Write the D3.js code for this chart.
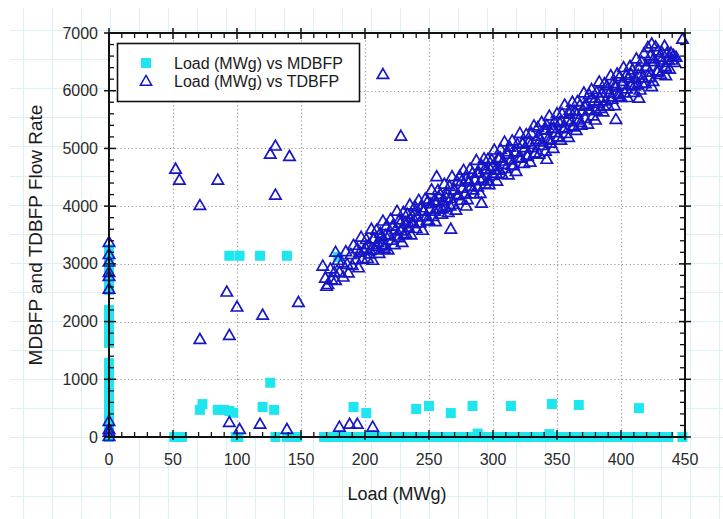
<!DOCTYPE html>
<html>
<head>
<meta charset="utf-8">
<script src="https://cdn.jsdelivr.net/npm/d3@7"></script>
<style>
  body { margin: 0; background: #fff; }
  svg { display: block; font-family: "Liberation Sans", Arial, sans-serif; }
</style>
</head>
<body>
<div id="chart"></div>
<script>
const width = 723;
const height = 519;

// axis ranges and ticks
const xTicks = [0, 50, 100, 150, 200, 250, 300, 350, 400, 450];
const yTicks = [0, 1000, 2000, 3000, 4000, 5000, 6000, 7000];
const xTitle = "Load (MWg)";
const yTitle = "MDBFP and TDBFP Flow Rate";
const legendLabels = ["Load (MWg) vs MDBFP", "Load (MWg) vs TDBFP"];

// MDBFP: column at load 0
const mdbfpZeroLoadFlow = [0, 80, 160, 240, 320, 400, 480, 560, 640, 720, 800, 880, 960, 1040, 1120, 1200, 1280,
  1630, 1710, 1790, 1870, 1950, 2030, 2110, 2200,
  2550, 2650, 2750, 2850, 2950, 3050, 3150, 3250];
// MDBFP: loads with flow 0
const mdbfpZeroFlowLoad = [51, 54, 57, 99, 101, 130, 139, 143, 147,
  168, 174, 180, 186, 192, 198, 204, 210, 216, 222, 228, 234, 240, 246, 252, 258, 264, 270, 276, 282,
  288, 294, 300, 306, 312, 318, 324, 330, 336, 342, 348, 354, 360, 366, 372, 378, 384, 390, 396, 402,
  408, 414, 420, 426, 432, 437, 448];
// MDBFP: remaining points [load, flow]
const mdbfpOther = [
  [71, 470], [73, 570], [85, 470], [90, 470], [94, 450], [97, 420], [120, 520], [126, 940], [129, 470],
  [94, 3140], [102, 3140], [118, 3140], [139, 3140], [179, 3120],
  [191, 520], [201, 415], [240, 485], [250, 537], [267, 415], [284, 537], [314, 537], [346, 572],
  [367, 555], [414, 500], [288, 60], [344, 50]
];

// TDBFP [load, flow]
const tdbfpOutliers = [
  [0, 3360], [0, 3150], [0, 3020], [0, 2840], [0, 2770], [0, 2550], [0, 260], [0, 120], [0, 70], [0, 0],
  [52, 4630], [55, 4440], [71, 4000], [85, 4440], [126, 4890], [130, 5030], [141, 4850], [130, 4180],
  [92, 2500], [71, 1680], [94, 1750], [100, 2240], [120, 2100], [148, 2320],
  [94, 240], [102, 120], [118, 210], [139, 120], [180, 160], [188, 210], [194, 210], [206, 160],
  [167, 2950], [170, 2600], [177, 3190],
  [214, 6270], [228, 5200], [256, 4500], [267, 3590], [279, 3990], [291, 4040], [342, 4800],
  [396, 5490], [414, 5860], [424, 6060], [435, 6250], [448, 6880]
];
const tdbfpBand = [
  [169, 2740], [171, 2630], [173, 2900], [174, 2710], [176, 2840], [177, 2700], [179, 3050], [180, 2840],
  [182, 3010], [183, 2760], [185, 3200], [186, 2980], [187, 2830], [189, 3150], [190, 2960], [191, 3310],
  [193, 3060], [194, 3250], [195, 2920], [196, 3190], [197, 3450], [198, 3070], [199, 3220],
  [201, 3410], [202, 3080], [203, 3320], [204, 3220], [205, 3590], [206, 3050], [207, 3420], [208, 3230],
  [209, 3570], [210, 3360], [211, 3170], [212, 3520], [213, 3320], [214, 3730], [215, 3260], [216, 3480],
  [217, 3650], [218, 3230], [219, 3490], [220, 3760], [221, 3400], [222, 3640], [223, 3320], [224, 3580],
  [225, 3900], [226, 3440], [227, 3750], [228, 3560], [229, 3360], [230, 3880], [231, 3690], [232, 3510],
  [233, 3850], [234, 3620], [235, 4010], [236, 3490], [237, 3810], [238, 3690], [239, 3980], [240, 3600],
  [241, 3800], [242, 4090], [243, 3700], [244, 3960], [245, 3570], [246, 3900], [247, 4110], [248, 3810],
  [249, 4070], [250, 3730],
  [251, 3940], [252, 4270], [253, 3810], [254, 4080], [255, 3720], [256, 4050], [257, 4260], [258, 3940],
  [259, 4190], [260, 3850], [261, 4080], [262, 4370], [263, 3970], [264, 4210], [265, 3880], [266, 4330],
  [267, 4120], [268, 4500], [269, 4020], [270, 4270], [271, 3920], [272, 4410], [273, 4170], [274, 4510],
  [275, 4090], [276, 4300], [277, 4610], [278, 4200], [279, 4460], [280, 4100], [281, 4410], [282, 4630],
  [283, 4330], [284, 4560], [285, 4200], [286, 4440], [287, 4780], [288, 4320], [289, 4570], [290, 4210],
  [291, 4690], [292, 4470], [293, 4810], [294, 4370], [295, 4620], [296, 4800], [297, 4360], [298, 4620],
  [299, 4790], [300, 4520],
  [301, 4960], [302, 4620], [303, 4420], [304, 4820], [305, 4610], [306, 4970], [307, 4540], [308, 4770],
  [309, 5100], [310, 4640], [311, 4890], [312, 4530], [313, 5010], [314, 4790], [315, 5120], [316, 4690],
  [317, 4930], [318, 4590], [319, 5060], [320, 4830], [321, 5250], [322, 4820], [323, 5070], [324, 4730],
  [325, 5000], [326, 5230], [327, 4850], [328, 5100], [329, 4750], [330, 5250], [331, 5000], [332, 5380],
  [333, 4900], [334, 5140], [335, 5350], [336, 4890], [337, 5140], [338, 5440], [339, 5040], [340, 5310],
  [341, 4940], [342, 5390], [343, 5150], [344, 5550], [345, 5080], [346, 5330], [347, 4990], [348, 5450],
  [349, 5260], [350, 5590],
  [351, 5190], [352, 5430], [353, 5130], [354, 5590], [355, 5330], [356, 5740], [357, 5250], [358, 5480],
  [359, 5180], [360, 5650], [361, 5450], [362, 5790], [363, 5360], [364, 5630], [365, 5300], [366, 5800],
  [367, 5480], [368, 5740], [369, 5390], [370, 5640], [371, 5950], [372, 5510], [373, 5740], [374, 5410],
  [375, 5920], [376, 5650], [377, 6010], [378, 5550], [379, 5810], [380, 5480], [381, 5960], [382, 5770],
  [383, 6140], [384, 5680], [385, 5950], [386, 5620], [387, 6110], [388, 5810], [389, 6070], [390, 5720],
  [391, 5950], [392, 6250], [393, 5840], [394, 6110], [395, 5730], [396, 6050], [397, 6280], [398, 5930],
  [399, 6230], [400, 5870],
  [401, 6100], [402, 6390], [403, 5950], [404, 6250], [405, 5870], [406, 6210], [407, 6410], [408, 6080],
  [409, 6350], [410, 5960], [411, 6200], [412, 6540], [413, 6090], [414, 6370], [415, 6000], [416, 6490],
  [417, 6210], [418, 6630], [419, 6110], [420, 6400], [421, 6740], [422, 6220], [423, 6590], [424, 6800],
  [425, 6150], [426, 6490], [427, 6750], [428, 6330], [429, 6680], [430, 6570], [431, 6270], [432, 6650],
  [433, 6480], [434, 6760], [435, 6380], [436, 6640], [437, 6520], [438, 6360], [439, 6640], [440, 6520],
  [441, 6600], [442, 6480], [443, 6570]
];
// TDBFP: denser core of the band
const tdbfpCore = [
  [200.5, 3260], [203.5, 3160], [206.5, 3420], [209.5, 3290], [212.5, 3460], [215.5, 3300], [218.5, 3480],
  [221.5, 3640], [224.5, 3470], [227.5, 3690], [230.5, 3500], [233.5, 3720], [236.5, 3690], [239.5, 3900],
  [242.5, 3700], [245.5, 3910], [248.5, 3740], [251.5, 4030], [254.5, 3900], [257.5, 4150], [260.5, 3940],
  [263.5, 4130], [266.5, 3990], [269.5, 4270], [272.5, 4190], [275.5, 4420], [278.5, 4210], [281.5, 4410],
  [284.5, 4270], [287.5, 4560], [290.5, 4430], [293.5, 4630], [296.5, 4430], [299.5, 4670], [302.5, 4560],
  [305.5, 4830], [308.5, 4710], [311.5, 4930], [314.5, 4700], [317.5, 4920], [320.5, 4830], [323.5, 5080],
  [326.5, 4870], [329.5, 5060], [332.5, 4910], [335.5, 5200], [338.5, 5100], [341.5, 5310], [344.5, 5130],
  [347.5, 5340], [350.5, 5180], [353.5, 5460], [356.5, 5350], [359.5, 5580], [362.5, 5380], [365.5, 5580],
  [368.5, 5440], [371.5, 5720], [374.5, 5640], [377.5, 5860], [380.5, 5650], [383.5, 5860], [386.5, 5720],
  [389.5, 6010], [392.5, 5880], [395.5, 6080], [398.5, 5890], [401.5, 6150], [404.5, 6020], [407.5, 6280],
  [410.5, 6070], [413.5, 6260], [416.5, 6120], [419.5, 6410], [422.5, 6310], [425.5, 6540], [428.5, 6310],
  [431.5, 6520], [434.5, 6410], [437.5, 6570]
];

const squareColor = "#1ee6ee";
const triColor = "#1616c6";
const paperColor = "#dcf1f6";

const margin = { left: 109, right: 723 - 685, top: 33, bottom: 519 - 437 };
const plotW = width - margin.left - margin.right;
const plotH = height - margin.top - margin.bottom;

const svg = d3.select("#chart").append("svg")
    .attr("width", width)
    .attr("height", height);

// graph-paper background
const paper = svg.append("g").attr("stroke", paperColor).attr("stroke-width", 1);
paper.selectAll("line.v")
    .data(d3.range(23, width, 29))
    .enter().append("line")
    .attr("x1", d => d + 0.5).attr("x2", d => d + 0.5)
    .attr("y1", 8).attr("y2", height);
paper.selectAll("line.h")
    .data(d3.range(30, height, 29.1))
    .enter().append("line")
    .attr("x1", 10).attr("x2", width)
    .attr("y1", d => Math.round(d) + 0.5).attr("y2", d => Math.round(d) + 0.5);

const x = d3.scaleLinear().domain([0, 450]).range([margin.left, margin.left + plotW]);
const y = d3.scaleLinear().domain([0, 7000]).range([margin.top + plotH, margin.top]);

// plot area
svg.append("rect")
    .attr("x", x(0)).attr("y", y(7000))
    .attr("width", plotW).attr("height", plotH)
    .attr("fill", "#fff");

// dotted grid
const grid = svg.append("g").attr("stroke", "#9a9a9a").attr("stroke-width", 1.2)
    .attr("stroke-dasharray", "1.2,2.6");
grid.selectAll("line.gx")
    .data(xTicks.slice(1, -1))
    .enter().append("line")
    .attr("x1", d => Math.round(x(d)) + 0.5).attr("x2", d => Math.round(x(d)) + 0.5)
    .attr("y1", y(0)).attr("y2", y(7000));
grid.selectAll("line.gy")
    .data(yTicks.slice(1, -1))
    .enter().append("line")
    .attr("y1", d => Math.round(y(d)) + 0.5).attr("y2", d => Math.round(y(d)) + 0.5)
    .attr("x1", x(0)).attr("x2", x(450));

// MDBFP squares
const sq = 10;
const squares = []
    .concat(mdbfpZeroLoadFlow.map(v => [0, v]))
    .concat(mdbfpZeroFlowLoad.map(l => [l, 0]))
    .concat(mdbfpOther);
svg.append("g").attr("fill", squareColor)
    .selectAll("rect")
    .data(squares)
    .enter().append("rect")
    .attr("x", d => x(d[0]) - sq / 2)
    .attr("y", d => y(d[1]) - sq / 2)
    .attr("width", sq).attr("height", sq);

// TDBFP triangles
const tri = d3.symbol().type(d3.symbolTriangle).size(56);
svg.append("g")
    .attr("fill", "none").attr("stroke", triColor).attr("stroke-width", 1.7)
    .selectAll("path")
    .data(tdbfpOutliers.concat(tdbfpBand, tdbfpCore))
    .enter().append("path")
    .attr("d", tri)
    .attr("transform", d => "translate(" + x(d[0]) + "," + y(d[1]) + ")");

// axes with inward ticks
function minor(step, max) { return d3.range(0, max + 0.001, step); }
const axisStroke = "#111";
const ax = svg.append("g").attr("stroke", axisStroke);

const xMinor = minor(10, 450).filter(v => v % 50 !== 0);
const yMinor = minor(200, 7000).filter(v => v % 1000 !== 0);

// bottom
ax.selectAll("line.bmin").data(xMinor).enter().append("line")
    .attr("x1", d => x(d)).attr("x2", d => x(d))
    .attr("y1", y(0)).attr("y2", y(0) - 5).attr("stroke-width", 1.3);
ax.selectAll("line.bmaj").data(xTicks).enter().append("line")
    .attr("x1", d => x(d)).attr("x2", d => x(d))
    .attr("y1", y(0) + 3).attr("y2", y(0) - 7).attr("stroke-width", 1.5);
// top
ax.selectAll("line.tmin").data(xMinor).enter().append("line")
    .attr("x1", d => x(d)).attr("x2", d => x(d))
    .attr("y1", y(7000)).attr("y2", y(7000) + 5).attr("stroke-width", 1.3);
ax.selectAll("line.tmaj").data(xTicks).enter().append("line")
    .attr("x1", d => x(d)).attr("x2", d => x(d))
    .attr("y1", y(7000) - 5).attr("y2", y(7000) + 6).attr("stroke-width", 1.5);
// left
ax.selectAll("line.lmin").data(yMinor).enter().append("line")
    .attr("y1", d => y(d)).attr("y2", d => y(d))
    .attr("x1", x(0)).attr("x2", x(0) + 5).attr("stroke-width", 1.3);
ax.selectAll("line.lmaj").data(yTicks).enter().append("line")
    .attr("y1", d => y(d)).attr("y2", d => y(d))
    .attr("x1", x(0) - 5).attr("x2", x(0) + 7).attr("stroke-width", 1.5);
// right
ax.selectAll("line.rmin").data(yMinor).enter().append("line")
    .attr("y1", d => y(d)).attr("y2", d => y(d))
    .attr("x1", x(450)).attr("x2", x(450) - 5).attr("stroke-width", 1.3);
ax.selectAll("line.rmaj").data(yTicks).enter().append("line")
    .attr("y1", d => y(d)).attr("y2", d => y(d))
    .attr("x1", x(450) + 6).attr("x2", x(450) - 6).attr("stroke-width", 1.5);

// frame
svg.append("rect")
    .attr("x", x(0)).attr("y", y(7000))
    .attr("width", plotW).attr("height", plotH)
    .attr("fill", "none").attr("stroke", axisStroke).attr("stroke-width", 2);

// tick labels
svg.append("g").selectAll("text")
    .data(xTicks).enter().append("text")
    .attr("x", d => x(d)).attr("y", y(0) + 28)
    .attr("text-anchor", "middle")
    .attr("font-size", 16).attr("fill", "#2a2a2a")
    .text(d => d);
svg.append("g").selectAll("text")
    .data(yTicks).enter().append("text")
    .attr("x", x(0) - 11).attr("y", d => y(d) + 5.5)
    .attr("text-anchor", "end")
    .attr("font-size", 16).attr("fill", "#2a2a2a")
    .text(d => d);

// titles
svg.append("text")
    .attr("x", (x(0) + x(450)) / 2).attr("y", 500)
    .attr("text-anchor", "middle")
    .attr("font-size", 18).attr("fill", "#1a1a1a")
    .text(xTitle);
svg.append("text")
    .attr("transform", "translate(42," + ((y(0) + y(7000)) / 2) + ") rotate(-90)")
    .attr("text-anchor", "middle")
    .attr("font-size", 19).attr("fill", "#1a1a1a")
    .text(yTitle);

// legend
const legend = svg.append("g");
legend.append("rect")
    .attr("x", 117.5).attr("y", 43.5)
    .attr("width", 242).attr("height", 58)
    .attr("fill", "#fff").attr("stroke", "#111").attr("stroke-width", 1.6);
legend.append("rect")
    .attr("x", 141).attr("y", 58).attr("width", sq).attr("height", sq)
    .attr("fill", squareColor);
legend.append("path")
    .attr("d", tri)
    .attr("transform", "translate(146,82)")
    .attr("fill", "none").attr("stroke", triColor).attr("stroke-width", 1.5);
legend.selectAll("text.lab")
    .data(legendLabels).enter().append("text")
    .attr("x", 174).attr("y", (d, i) => 69 + i * 18)
    .attr("font-size", 16).attr("fill", "#1a1a1a")
    .text(d => d);
</script>
</body>
</html>
